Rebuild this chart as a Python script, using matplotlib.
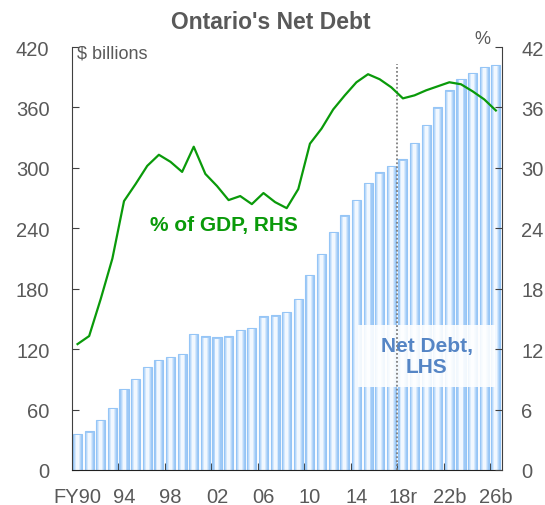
import matplotlib.pyplot as plt

plt.rcParams['font.family'] = ['Liberation Sans', 'DejaVu Sans']

# Fiscal years FY90 .. FY26 (r = restated, b = budget plan)
years = ['FY90'] + ['%02d' % (y % 100) for y in range(1991, 2027)]
tick_labels = ['FY90', '94', '98', '02', '06', '10', '14', '18r', '22b', '26b']

# Net debt, $ billions (left axis)
net_debt = [35.7, 38.4, 49.6, 61.9, 80.4, 90.7, 102.0, 109.2, 112.5, 115.2,
            135.0, 132.7, 131.7, 132.7, 139.0, 141.0, 152.6, 153.6, 156.9, 169.5,
            193.6, 214.5, 236.3, 252.9, 268.0, 285.3, 295.6, 301.9, 308.5, 325.0,
            342.6, 360.1, 377.0, 388.3, 394.2, 399.9, 402.2]

# Net debt as % of GDP (right axis)
pct_gdp = [12.5, 13.3, 17.0, 21.0, 26.7, 28.4, 30.2, 31.3, 30.6, 29.6,
           32.1, 29.4, 28.2, 26.8, 27.2, 26.4, 27.5, 26.6, 26.0, 27.9,
           32.4, 33.9, 35.8, 37.2, 38.5, 39.3, 38.8, 38.0, 36.9, 37.2,
           37.7, 38.1, 38.5, 38.3, 37.6, 36.8, 35.7]

grey = '#595959'
x = list(range(len(years)))

fig = plt.figure(figsize=(5.45, 5.06), dpi=100)
ax = fig.add_axes([0.1316, 0.0692, 0.7889, 0.8359])

# bars with a light-blue to white gradient, built from stacked narrower bars
ax.bar(x, net_debt, width=0.78, color='#9fcaf7', edgecolor='#95c5f6',
       linewidth=0.8, zorder=2)
layers = [(0.58, '#b8d8fa'), (0.42, '#d6e9fc'), (0.26, '#f2f8ff')]
for w, c in layers:
    ax.bar(x, [v - 1.2 for v in net_debt], width=w, color=c, linewidth=0, zorder=2)

ax.set_xlim(-0.5, len(years) - 0.5)
ax.set_ylim(0, 420)
ax.set_yticks(range(0, 421, 60))

# ticks sit between categories, labels centred on the category
ax.set_xticks([i - 0.5 for i in range(4, len(years), 4)])
ax.set_xticklabels([])
ax.set_xticks(range(0, len(years), 4), minor=True)
ax.set_xticklabels(tick_labels, minor=True)
ax.tick_params(axis='x', which='major', direction='in', length=5, color='#404040')
ax.tick_params(axis='x', which='minor', length=0, pad=12, labelsize=14.5, labelcolor=grey)
ax.tick_params(axis='y', direction='in', length=5, pad=16, labelsize=14.5,
               labelcolor=grey, color='#404040')

for s in ['top', 'right']:
    ax.spines[s].set_visible(False)
ax.spines['left'].set_color('#404040')
ax.spines['bottom'].set_color('#202020')
ax.spines['bottom'].set_zorder(4)

# label box for the bars
ax.add_patch(plt.Rectangle((24.15, 82), 11.8, 62, facecolor='white', alpha=0.88,
                           edgecolor='none', zorder=3))
ax.text(30.05, 113, 'Net Debt,\nLHS', ha='center', va='center', fontsize=15,
        fontweight='bold', color='#5585c5', linespacing=1.15, zorder=4)

# dotted divider between actuals and plan
ax.plot([27.5, 27.5], [0, 403], color='#7f7f7f', linestyle=(0, (1, 1.2)),
        linewidth=1.3, zorder=5)

ax.text(0.012, 0.985, '$ billions', transform=ax.transAxes, ha='left', va='center',
        fontsize=13, color=grey)

ax2 = ax.twinx()
ax2.plot(x, pct_gdp, color='#0a9a0a', linewidth=1.6, zorder=6)
ax2.set_ylim(0, 42)
ax2.set_yticks(range(0, 43, 6))
ax2.tick_params(axis='y', direction='in', length=5, pad=14, labelsize=14.5,
                labelcolor=grey, color='#404040')
for s in ['top', 'left', 'bottom']:
    ax2.spines[s].set_visible(False)
ax2.spines['right'].set_color('#404040')
ax2.text(0.955, 1.019, '%', transform=ax2.transAxes, ha='center', va='center',
         fontsize=13, color=grey)

ax.text(12.6, 244, '% of GDP, RHS', ha='center', va='center', fontsize=15,
        fontweight='bold', color='#0a9a0a', zorder=6)

fig.text(0.497, 0.955, "Ontario's Net Debt", ha='center', va='center',
         fontsize=16.5, fontweight='bold', color=grey)

plt.savefig('out.png', dpi=100)
